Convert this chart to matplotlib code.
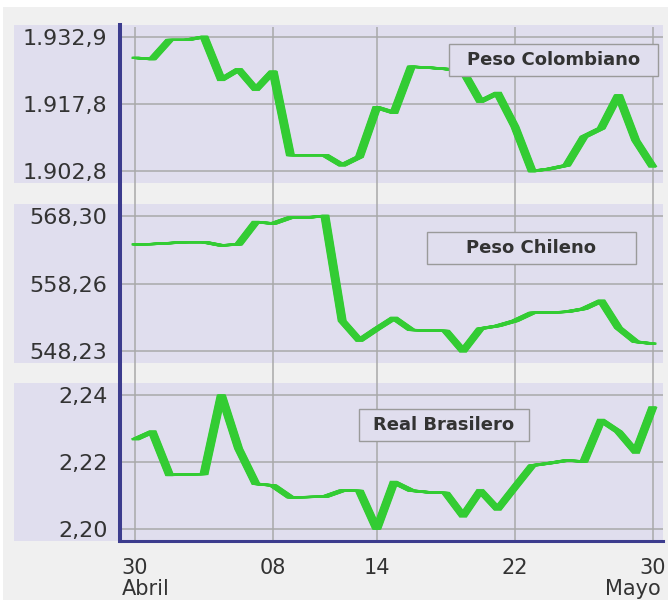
import numpy as np
import matplotlib.pyplot as plt
from matplotlib.patches import Rectangle
from matplotlib.lines import Line2D
from matplotlib.transforms import offset_copy

# datos (dias desde el 30 de abril)
dias = list(range(31))

peso_colombiano = [1928.2, 1927.9, 1932.2, 1932.2, 1932.9, 1923.3, 1925.6, 1921.1,
                   1925.2, 1906.4, 1906.4, 1906.4, 1904.1, 1906.0, 1917.1, 1915.9,
                   1926.2, 1926.0, 1925.7, 1925.2, 1918.4, 1920.3, 1912.8, 1902.8,
                   1903.3, 1904.1, 1910.5, 1912.4, 1919.9, 1909.7, 1903.7]

peso_chileno = [564.07, 564.12, 564.26, 564.41, 564.41, 563.92, 564.07, 567.40,
                567.16, 568.06, 568.06, 568.30, 552.71, 549.80, 551.52, 553.16,
                551.37, 551.29, 551.22, 548.23, 551.56, 551.97, 552.71, 553.91,
                553.95, 554.06, 554.51, 555.70, 551.67, 549.62, 549.32]

real_brasilero = [2.2270, 2.2293, 2.2165, 2.2167, 2.2168, 2.2402, 2.2243, 2.2139,
                  2.2134, 2.2099, 2.2100, 2.2101, 2.2119, 2.2118, 2.2005, 2.2144,
                  2.2119, 2.2114, 2.2112, 2.2044, 2.2119, 2.2064, 2.2129, 2.2193,
                  2.2200, 2.2208, 2.2205, 2.2327, 2.2293, 2.2233, 2.2367]

nombres = ["Peso Colombiano", "Peso Chileno", "Real Brasilero"]

ticks_col = [1902.8, 1917.8, 1932.9]
etiq_col = ["1.902,8", "1.917,8", "1.932,9"]
ticks_chi = [548.23, 558.26, 568.30]
etiq_chi = ["548,23", "558,26", "568,30"]
ticks_bra = [2.2005, 2.2203, 2.2402]
etiq_bra = ["2,20", "2,22", "2,24"]

x_ticks = [0, 8, 14, 22, 30]
x_etiq = ["30", "08", "14", "22", "30"]

# colores
VERDE = "#33cc33"
LAVANDA = "#e0deee"
GRIS = "#f0f0f0"
REJILLA = "#a9a9a9"
AZUL = "#3c3c8e"
TEXTO = "#333333"

W, H = 668, 600
fig = plt.figure(figsize=(W / 100, H / 100), dpi=100, facecolor="white")


def fx(px):
    return px / W


def fy(py):
    return 1 - py / H


# escala horizontal: dia 0 en x=135px, dia 30 en x=653px
px_dia = (653 - 135) / 30
XMIN = (120 - 135) / px_dia
XMAX = (663 - 135) / px_dia

fig.patches.append(Rectangle((fx(3), 0), 1 - fx(3), fy(7), transform=fig.transFigure,
                             facecolor=GRIS, edgecolor="none", zorder=0))

bandas = [(25, 183), (204, 363), (383, 541)]
for b0, b1 in bandas:
    fig.patches.append(Rectangle((fx(14), fy(b1)), fx(663) - fx(14), (b1 - b0) / H,
                                 transform=fig.transFigure, facecolor=LAVANDA,
                                 edgecolor="none", zorder=0.5))

# rejilla vertical continua
ax_bg = fig.add_axes([fx(120), fy(541), fx(663) - fx(120), (541 - 27) / H], zorder=1)
ax_bg.set_xlim(XMIN, XMAX)
ax_bg.axis("off")
for t in x_ticks:
    ax_bg.axvline(t, color=REJILLA, lw=1.1)


def pluma(ax, x, y):
    # trazo tipo plumilla horizontal
    for dx in np.linspace(-3.5, 3.5, 15):
        tr = offset_copy(ax.transData, fig=fig, x=dx, y=0, units="dots")
        ax.plot(x, y, color=VERDE, lw=1.5, transform=tr, solid_joinstyle="miter",
                solid_capstyle="butt", zorder=3)


series = [peso_colombiano, peso_chileno, real_brasilero]
ticks = [ticks_col, ticks_chi, ticks_bra]
etiqs = [etiq_col, etiq_chi, etiq_bra]
cajas = [(449, 44, 658, 76), (427, 232, 636, 264), (359, 409, 529, 441)]

for i, (b0, b1) in enumerate(bandas):
    ax = fig.add_axes([fx(120), fy(b1), fx(663) - fx(120), (b1 - b0) / H], zorder=2)
    ax.set_facecolor("none")
    for s in ax.spines.values():
        s.set_visible(False)
    y = series[i]
    lo, hi = min(y), max(y)
    r = hi - lo
    ax.set_xlim(XMIN, XMAX)
    ax.set_ylim(lo - 0.088 * r, hi + 0.088 * r)
    for t in ticks[i]:
        ax.axhline(t, color=REJILLA, lw=1.1, zorder=1)
    ax.set_yticks(ticks[i])
    ax.set_yticklabels(etiqs[i])
    ax.tick_params(axis="y", length=0, pad=9, labelsize=16, labelcolor=TEXTO)
    pluma(ax, dias, y)

    c0, c1, c2, c3 = cajas[i]
    ax.add_patch(Rectangle((fx(c0), fy(c3)), fx(c2) - fx(c0), (c3 - c1) / H,
                           transform=fig.transFigure, facecolor=LAVANDA,
                           edgecolor="#9a9a9a", lw=1.0, zorder=4, clip_on=False))
    ax.text(fx((c0 + c2) / 2), fy((c1 + c3) / 2), nombres[i], transform=fig.transFigure,
            ha="center", va="center", fontsize=13, fontweight="bold", color=TEXTO,
            zorder=5)

    if i < 2:
        ax.set_xticks([])
    else:
        ax.set_xticks(x_ticks)
        ax.set_xticklabels(x_etiq)
        ax.tick_params(axis="x", length=0, pad=12, labelsize=15, labelcolor=TEXTO)

fig.text(fx(122), fy(589), "Abril", ha="left", va="center", fontsize=15, color=TEXTO)
fig.text(fx(661), fy(589), "Mayo", ha="right", va="center", fontsize=15, color=TEXTO)

# ejes azules
fig.lines.append(Line2D([fx(120), fx(120)], [fy(25), fy(541)], transform=fig.transFigure,
                        color=AZUL, lw=2.9, zorder=6))
fig.lines.append(Line2D([fx(120), fx(663)], [fy(541), fy(541)], transform=fig.transFigure,
                        color=AZUL, lw=2.2, zorder=6))

fig.savefig("out.png", dpi=100, facecolor=fig.get_facecolor())
